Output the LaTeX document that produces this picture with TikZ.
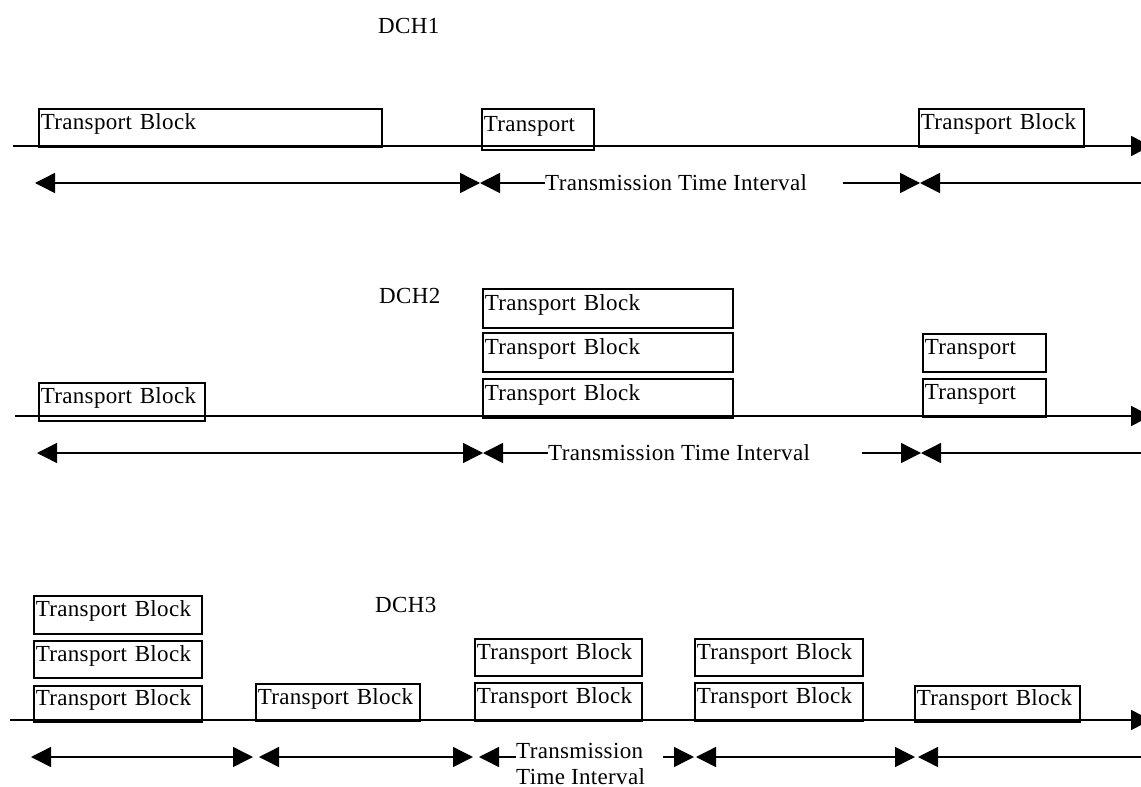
\documentclass[tikz,border=0pt]{standalone}
\usepackage{fontspec}
\setmainfont{Liberation Serif}[LetterSpace=1.5]
\usetikzlibrary{arrows.meta}
\begin{document}
\begin{tikzpicture}[x=1pt,y=-1pt,
  every node/.style={font=\fontsize{23}{28}\selectfont},
  tb/.style={draw, line width=1.5pt, anchor=north west, inner xsep=2pt, inner ysep=0pt,
             text height=16pt, text depth=12pt, align=left},
  span/.style={line width=1.4pt},
  larr/.style={{Triangle[length=20pt,width=20pt]}-},
  rarr/.style={-{Triangle[length=20pt,width=20pt]}},
  barr/.style={{Triangle[length=20pt,width=20pt]}-{Triangle[length=20pt,width=20pt]}},
  lbl/.style={anchor=base west, inner sep=0pt}]
\useasboundingbox (0,0) rectangle (1141,787);

% ---------------- DCH1 ----------------
\node[lbl] (dch1) at (378,33) {DCH1};
\coordinate (tl1s) at (13,146);
\coordinate (tl1e) at (1151,146);
\draw[span,rarr] (tl1s) -- (tl1e);
\node[tb, minimum width=343pt, minimum height=38pt, text width=339pt] (b11) at (38,108) {Transport Block};
\node[tb, minimum width=112pt, minimum height=41pt, text width=108pt] (b12) at (481,108) {Transport};
\node[tb, minimum width=165pt, minimum height=38pt, text width=161pt] (b13) at (918,108) {Transport Block};

\coordinate (r1a) at (35,183);
\coordinate (r1b) at (480,183);
\coordinate (r1c) at (843,183);
\coordinate (r1d) at (920,183);
\coordinate (r1e) at (1150,183);
\node[lbl] (tti1) at (545,190) {Transmission Time Interval};
\draw[span,barr] (r1a) -- (r1b);
\draw[span,larr] (r1b) -- (r1b -| tti1.west);
\draw[span,rarr] (r1c) -- (r1d);
\draw[span,larr] (r1d) -- (r1e);

% ---------------- DCH2 ----------------
\node[lbl] (dch2) at (379,303) {DCH2};
\coordinate (tl2s) at (15,416);
\coordinate (tl2e) at (1151,416);
\draw[span,rarr] (tl2s) -- (tl2e);
\node[tb, minimum width=250pt, minimum height=39pt, text width=246pt] (b21) at (482,288) {Transport Block};
\node[tb, minimum width=250pt, minimum height=39pt, text width=246pt] (b22) at (482,332) {Transport Block};
\node[tb, minimum width=250pt, minimum height=39pt, text width=246pt] (b23) at (482,378) {Transport Block};
\node[tb, minimum width=166pt, minimum height=38pt, text width=162pt] (b24) at (38,382) {Transport Block};
\node[tb, minimum width=123pt, minimum height=38pt, text width=119pt] (b25) at (922,333) {Transport};
\node[tb, minimum width=123pt, minimum height=38pt, text width=119pt] (b26) at (922,378) {Transport};

\coordinate (r2a) at (37,453);
\coordinate (r2b) at (483,453);
\coordinate (r2c) at (862,453);
\coordinate (r2d) at (921,453);
\coordinate (r2e) at (1150,453);
\node[lbl] (tti2) at (548,460) {Transmission Time Interval};
\draw[span,barr] (r2a) -- (r2b);
\draw[span,larr] (r2b) -- (r2b -| tti2.west);
\draw[span,rarr] (r2c) -- (r2d);
\draw[span,larr] (r2d) -- (r2e);

% ---------------- DCH3 ----------------
\node[lbl] (dch3) at (375,612) {DCH3};
\coordinate (tl3s) at (10,720);
\coordinate (tl3e) at (1151,720);
\draw[span,rarr] (tl3s) -- (tl3e);
\node[tb, minimum width=168pt, minimum height=38pt, text width=164pt] (b31) at (33,595) {Transport Block};
\node[tb, minimum width=168pt, minimum height=37pt, text width=164pt] (b32) at (33,640) {Transport Block};
\node[tb, minimum width=168pt, minimum height=36pt, text width=164pt] (b33) at (33,685) {Transport Block};
\node[tb, minimum width=164pt, minimum height=37pt, text width=160pt] (b34) at (255,683) {Transport Block};
\node[tb, minimum width=167pt, minimum height=37pt, text width=163pt] (b35) at (474,638) {Transport Block};
\node[tb, minimum width=167pt, minimum height=38pt, text width=163pt] (b36) at (474,682) {Transport Block};
\node[tb, minimum width=168pt, minimum height=37pt, text width=164pt] (b37) at (694,638) {Transport Block};
\node[tb, minimum width=168pt, minimum height=38pt, text width=164pt] (b38) at (694,682) {Transport Block};
\node[tb, minimum width=165pt, minimum height=36pt, text width=161pt] (b39) at (914,685) {Transport Block};

\coordinate (r3a) at (31,757);
\coordinate (r3b) at (253,757);
\coordinate (r3c) at (259,757);
\coordinate (r3d) at (473,757);
\coordinate (r3e) at (479,757);
\coordinate (r3f) at (663,757);
\coordinate (r3g) at (694,757);
\coordinate (r3h) at (696,757);
\coordinate (r3i) at (915,757);
\coordinate (r3j) at (918,757);
\coordinate (r3k) at (1150,757);
\node[lbl] (tti3a) at (516,758) {Transmission};
\node[lbl] (tti3b) at (516,784) {Time Interval};
\draw[span,barr] (r3a) -- (r3b);
\draw[span,barr] (r3c) -- (r3d);
\draw[span,larr] (r3e) -- (r3e -| tti3a.west);
\draw[span,rarr] (r3f) -- (r3g);
\draw[span,barr] (r3h) -- (r3i);
\draw[span,larr] (r3j) -- (r3k);
\end{tikzpicture}
\end{document}
